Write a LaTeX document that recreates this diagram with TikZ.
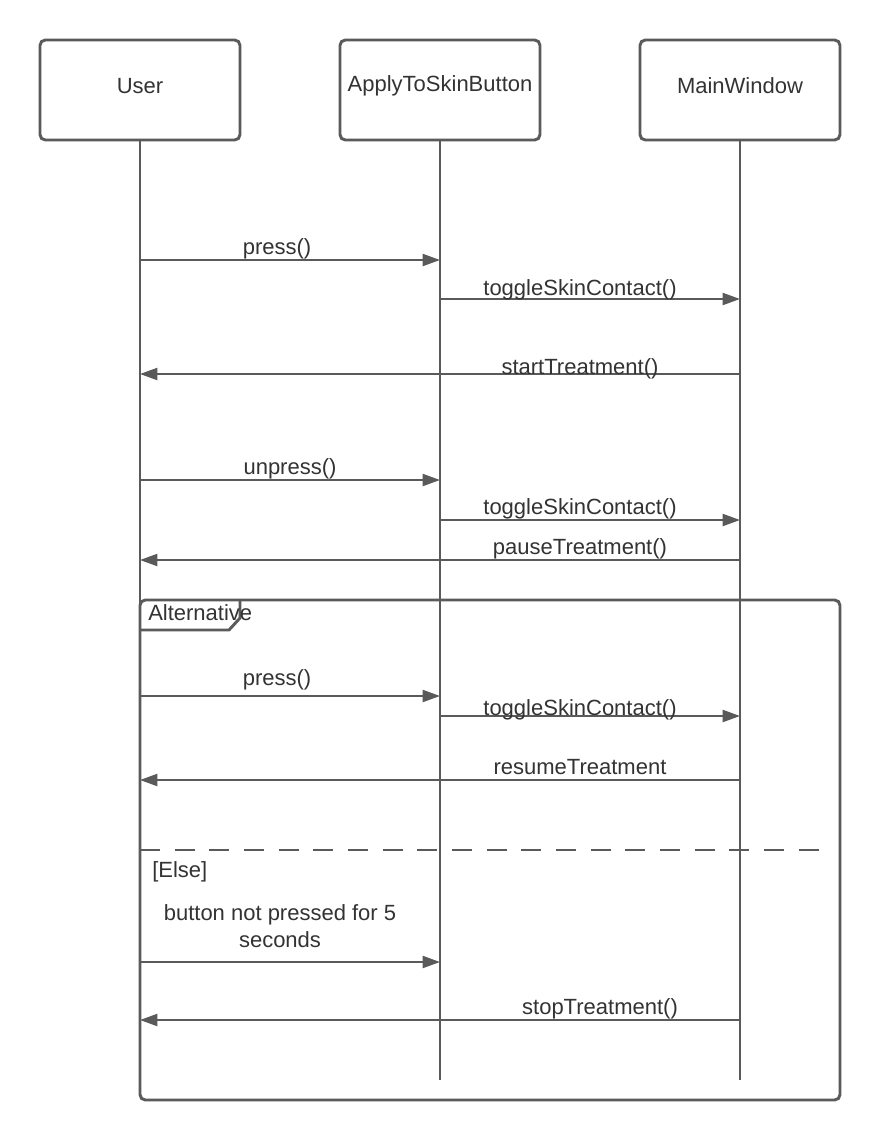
\documentclass[tikz,border=0pt]{standalone}
\usepackage{fontspec}
\setmainfont{Liberation Sans}
\usetikzlibrary{arrows.meta}
\definecolor{ink}{HTML}{5A5A5A}
\definecolor{txt}{HTML}{333333}
\begin{document}
\begin{tikzpicture}[x=0.75pt,y=-0.75pt,
  font=\fontsize{16.5}{19}\selectfont,
  header/.style={draw=ink, line width=2.2pt, rounded corners=4pt, minimum width=150pt, minimum height=75pt, fill=white},
  headtext/.style={text=txt, inner sep=0pt},
  lifeline/.style={draw=ink, line width=1.5pt},
  msg/.style={draw=ink, line width=1.5pt, -{Triangle[length=13pt,width=9pt]}},
  lbl/.style={anchor=base, text=txt, inner sep=0pt},
  framebox/.style={draw=ink, line width=2.2pt, rounded corners=4pt},
]
\useasboundingbox (0,0) rectangle (880,1140);
\fill[white] (0,0) rectangle (880,1140);

% participants
\node[header] (user) at (140,90) {};
\node[header] (btn)  at (440,90) {};
\node[header] (win)  at (740,90) {};
\node[headtext] (userName) at (140,86) {User};
\node[headtext] (btnName)  at (440,86) {ApplyToSkinButton};
\node[headtext] (winName)  at (740,86) {MainWindow};

% lifeline ends
\coordinate (userEnd) at (140,1080);
\coordinate (btnEnd)  at (440,1080);
\coordinate (winEnd)  at (740,1080);
\draw[lifeline] (user.south) -- (userEnd);
\draw[lifeline] (btn.south) -- (btnEnd);
\draw[lifeline] (win.south) -- (winEnd);

% first press sequence
\draw[msg] (user |- 0,260) -- (btn |- 0,260);
\node[lbl] (l1) at (277,254) {press()};
\draw[msg] (btn |- 0,299) -- (win |- 0,299);
\node[lbl] (l2) at (580,295) {toggleSkinContact()};
\draw[msg] (win |- 0,374) -- (user |- 0,374);
\node[lbl] (l3) at (580,374) {startTreatment()};

% release sequence
\draw[msg] (user |- 0,480) -- (btn |- 0,480);
\node[lbl] (l4) at (290,474) {unpress()};
\draw[msg] (btn |- 0,520) -- (win |- 0,520);
\node[lbl] (l5) at (580,514) {toggleSkinContact()};
\draw[msg] (win |- 0,560) -- (user |- 0,560);
\node[lbl] (l6) at (580,554) {pauseTreatment()};

% alternative fragment
\coordinate (fragTL) at (140,600);
\coordinate (fragBR) at (840,1100);
\draw[framebox] (fragTL) rectangle (fragBR);
\draw[ink, line width=2.2pt, line join=round] (140,630) -- (229,630) -- (240,618) -- (240,600);
\node[lbl, anchor=base west] (alt) at (148,620) {Alternative};
\coordinate (sepL) at (140,850);
\coordinate (sepR) at (826,850);
\draw[ink, line width=2.2pt, dash pattern=on 15pt off 11pt] (sepL) -- (sepR);
\node[lbl, anchor=base west] (els) at (152,877) {[Else]};

% resumed branch
\draw[msg] (user |- 0,696) -- (btn |- 0,696);
\node[lbl] (l7) at (277,685) {press()};
\draw[msg] (btn |- 0,716) -- (win |- 0,716);
\node[lbl] (l8) at (580,715) {toggleSkinContact()};
\draw[msg] (win |- 0,780) -- (user |- 0,780);
\node[lbl] (l9) at (580,774) {resumeTreatment};

% timeout branch
\node[text=txt, align=center, inner sep=0pt, font=\fontsize{16.5}{20}\selectfont] (l10) at (280,926) {button not pressed for 5\\seconds};
\draw[msg] (user |- 0,962) -- (btn |- 0,962);
\draw[msg] (win |- 0,1020) -- (user |- 0,1020);
\node[lbl] (l11) at (600,1014) {stopTreatment()};
\end{tikzpicture}
\end{document}
